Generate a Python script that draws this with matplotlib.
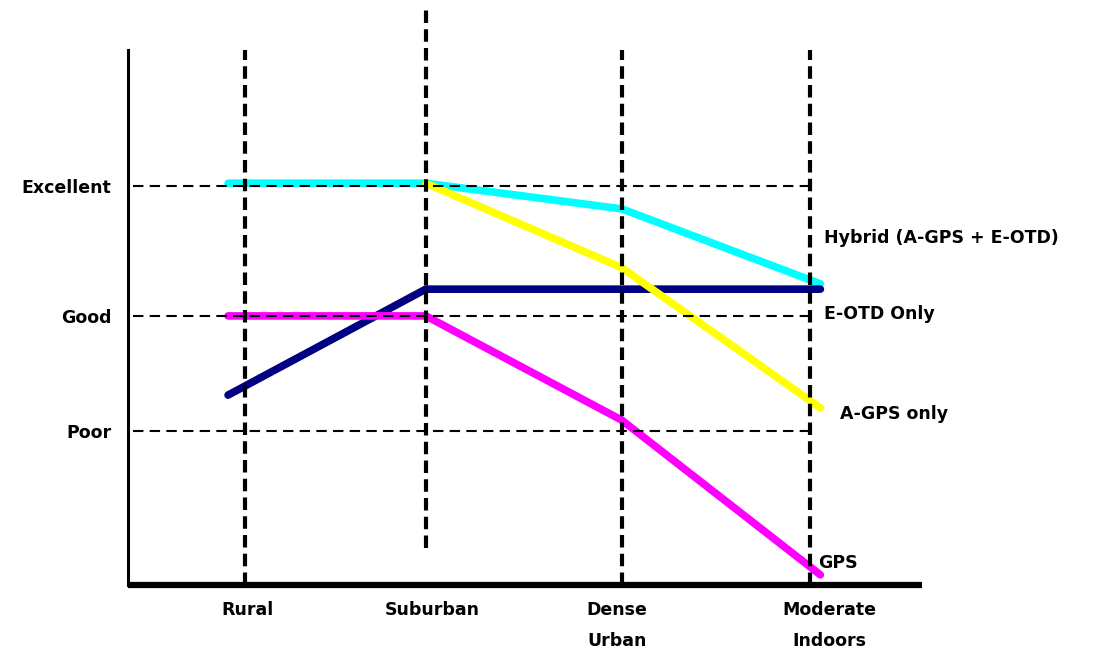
import matplotlib.pyplot as plt

# category positions along the x axis (0-100 scale) and their labels
categories = ["Rural", "Suburban", "Dense\nUrban", "Moderate\nIndoors"]
cat_x = [14.7, 37.5, 62.2, 85.9]

# quality levels (0-100 scale)
levels = ["Excellent", "Good", "Poor"]
level_y = [74.6, 50.3, 28.8]

# series
hybrid_x = [12.6, 37.5, 62.2, 87.2]
hybrid_y = [75.1, 75.1, 70.3, 56.3]
agps_x = [37.5, 62.2, 87.2]
agps_y = [75.1, 59.3, 33.1]
eotd_x = [12.6, 37.5, 62.2, 87.2]
eotd_y = [35.5, 55.3, 55.3, 55.3]
gps_x = [12.6, 37.5, 62.2, 87.2]
gps_y = [50.3, 50.3, 30.8, 1.9]

series = [
    ("Hybrid (A-GPS + E-OTD)", hybrid_x, hybrid_y, "#00ffff", (87.7, 64.9)),
    ("E-OTD Only", eotd_x, eotd_y, "#000080", (87.7, 50.6)),
    ("A-GPS only", agps_x, agps_y, "#ffff00", (89.7, 32.0)),
    ("GPS", gps_x, gps_y, "#ff00ff", (86.9, 4.1)),
]

FONT = {"family": "DejaVu Sans", "weight": "bold", "size": 12.5}

fig = plt.figure(figsize=(10.98, 6.54), dpi=100)
ax = fig.add_axes([0.1166, 0.1055, 0.7231, 0.818])
ax.set_xlim(0, 100)
ax.set_ylim(0, 100)

for name, xs, ys, color, (tx, ty) in series:
    ax.plot(xs, ys, color=color, lw=5.5, solid_capstyle="round", zorder=2, clip_on=False)
    ax.text(tx, ty, name, ha="left", va="center", **FONT)

# horizontal level lines
for y in level_y:
    ax.plot([0.6, cat_x[-1]], [y, y], color="black", lw=1.5, dashes=(5, 3), zorder=3)

# vertical category lines (suburban one is taller)
for i, x in enumerate(cat_x):
    if i == 1:
        y0, y1 = 6.9, 107.9
    else:
        y0, y1 = 0, 100
    ax.plot([x, x], [y0, y1], color="black", lw=3, dashes=(3, 1.5), zorder=4, clip_on=False)

ax.set_yticks(level_y)
ax.set_yticklabels(levels, fontdict=FONT)
ax.tick_params(axis="y", length=0, pad=12)

ax.set_xticks([])
label_x = [15.1, 38.3, 61.6, 88.3]
for x, lab in zip(label_x, categories):
    ax.text(x, -3.0, lab, ha="center", va="top", linespacing=1.95, **FONT)

for side in ["top", "right"]:
    ax.spines[side].set_visible(False)
ax.spines["left"].set_linewidth(2.2)
ax.spines["bottom"].set_linewidth(4.5)
ax.spines["bottom"].set_capstyle("butt")

fig.savefig("out.png", dpi=100)
